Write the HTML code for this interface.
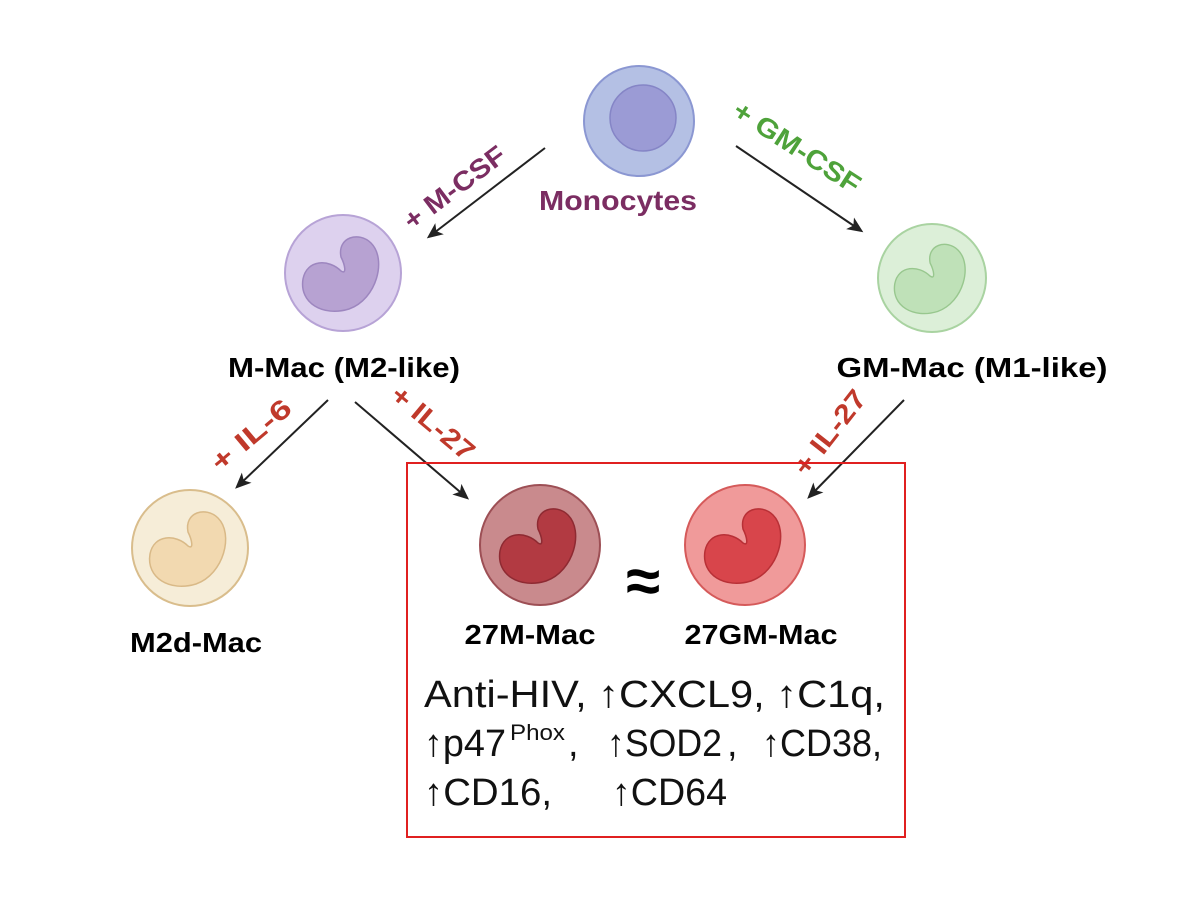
<!DOCTYPE html>
<html><head><meta charset="utf-8"><style>
html,body{margin:0;padding:0;background:#fff;width:1200px;height:900px;overflow:hidden}
text{font-family:"Liberation Sans",Arial,sans-serif}
</style></head><body>
<svg width="1200" height="900" viewBox="0 0 1200 900" xmlns="http://www.w3.org/2000/svg">
<defs>
<marker id="ah" markerWidth="16" markerHeight="16" refX="12" refY="7" orient="auto" markerUnits="userSpaceOnUse" viewBox="0 0 16 14">
<path d="M0,0 L16,7 L0,14 L4,7Z" fill="#222"/></marker>
<path id="nuc" d="M-2,-16 C-6,-36 16,-42 28,-30 C44,-14 34,26 6,36 C-20,44 -44,30 -40,6 C-36,-14 -14,-14 -2,-2 C4,2 2,-8 -2,-16Z"/>
</defs>

<circle cx="639" cy="121" r="55" fill="#b4c0e4" stroke="#8b97d2" stroke-width="2"/>
<circle cx="643" cy="118" r="33" fill="#9b9bd5" stroke="#8585c6" stroke-width="1.5"/>
<text x="618" y="210" font-size="28" font-weight="bold" fill="#7b2d62" text-anchor="middle" textLength="158" lengthAdjust="spacingAndGlyphs">Monocytes</text>

<g stroke="#222" stroke-width="2" marker-end="url(#ah)">
<line x1="545" y1="148" x2="430" y2="236"/>
<line x1="736" y1="146" x2="860" y2="230"/>
<line x1="328" y1="400" x2="238" y2="486"/>
<line x1="355" y1="402" x2="466" y2="497"/>
<line x1="904" y1="400" x2="810" y2="496"/>
</g>

<g font-size="27" font-weight="bold" text-anchor="middle">
<text transform="translate(460,195) rotate(-37)" fill="#7b2d62" textLength="120" lengthAdjust="spacingAndGlyphs">+ M-CSF</text>
<text transform="translate(792,155) rotate(33)" fill="#4ea23a" textLength="146" lengthAdjust="spacingAndGlyphs">+ GM-CSF</text>
<text transform="translate(257,442) rotate(-40)" fill="#c0392b" textLength="96" lengthAdjust="spacingAndGlyphs">+ IL-6</text>
<text transform="translate(427,430) rotate(40)" fill="#c0392b" textLength="100" lengthAdjust="spacingAndGlyphs">+ IL-27</text>
<text transform="translate(837,438) rotate(-52)" fill="#c0392b" textLength="100" lengthAdjust="spacingAndGlyphs">+ IL-27</text>
</g>

<g transform="translate(343,273)">
<circle r="58" fill="#ddd1ee" stroke="#b7a3d6" stroke-width="2"/>
<use href="#nuc" fill="#b7a2d2" stroke="#9d86bf" stroke-width="1.5"/>
</g>
<text x="344" y="377" font-size="28" font-weight="bold" text-anchor="middle" textLength="232" lengthAdjust="spacingAndGlyphs">M-Mac (M2-like)</text>

<g transform="translate(932,278)">
<circle r="54" fill="#dcefd8" stroke="#a9d3a1" stroke-width="2"/>
<use href="#nuc" transform="scale(0.93)" fill="#bfe1b8" stroke="#98c78e" stroke-width="1.5"/>
</g>
<text x="972" y="377" font-size="28" font-weight="bold" text-anchor="middle" textLength="271" lengthAdjust="spacingAndGlyphs">GM-Mac (M1-like)</text>

<g transform="translate(190,548)">
<circle r="58" fill="#f6edd8" stroke="#d9bd8c" stroke-width="2"/>
<use href="#nuc" fill="#f2d9b0" stroke="#d9b987" stroke-width="1.5"/>
</g>
<text x="196" y="652" font-size="28" font-weight="bold" text-anchor="middle" textLength="132" lengthAdjust="spacingAndGlyphs">M2d-Mac</text>

<rect x="407" y="463" width="498" height="374" fill="none" stroke="#e02020" stroke-width="2"/>

<g transform="translate(540,545)">
<circle r="60" fill="#c98a8d" stroke="#9d4f55" stroke-width="2"/>
<use href="#nuc" fill="#b23a42" stroke="#8e2a32" stroke-width="1.5"/>
</g>
<g transform="translate(745,545)">
<circle r="60" fill="#f09a9a" stroke="#d55a5a" stroke-width="2"/>
<use href="#nuc" fill="#d8454b" stroke="#b83036" stroke-width="1.5"/>
</g>
<text x="643" y="602" font-size="62" font-weight="bold" text-anchor="middle">≈</text>
<text x="530" y="644" font-size="28" font-weight="bold" text-anchor="middle" textLength="131" lengthAdjust="spacingAndGlyphs">27M-Mac</text>
<text x="761" y="644" font-size="28" font-weight="bold" text-anchor="middle" textLength="153" lengthAdjust="spacingAndGlyphs">27GM-Mac</text>

<g font-size="38" fill="#111">
<text x="424" y="707" textLength="461" lengthAdjust="spacingAndGlyphs">Anti-HIV, ↑CXCL9, ↑C1q,</text>
<text x="424" y="756" textLength="82" lengthAdjust="spacingAndGlyphs">↑p47</text>
<text x="510" y="740" font-size="22" textLength="55" lengthAdjust="spacingAndGlyphs">Phox</text>
<text x="568" y="756">,</text>
<text x="607" y="756" textLength="115" lengthAdjust="spacingAndGlyphs">↑SOD2</text>
<text x="727" y="756">,</text>
<text x="762" y="756" textLength="120" lengthAdjust="spacingAndGlyphs">↑CD38,</text>
<text x="424" y="805" textLength="128" lengthAdjust="spacingAndGlyphs">↑CD16,</text>
<text x="612" y="805" textLength="115" lengthAdjust="spacingAndGlyphs">↑CD64</text>
</g>
</svg>
</body></html>
